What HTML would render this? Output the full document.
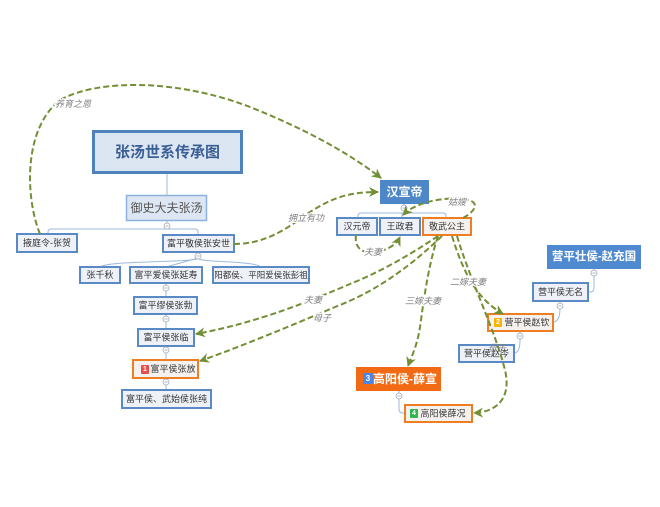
<!DOCTYPE html>
<html><head><meta charset="utf-8">
<style>
html,body{margin:0;padding:0;background:#fff;}
svg{display:block;font-family:"Liberation Sans","Noto Sans CJK SC",sans-serif;}
.bx{fill:#eef2f8;stroke:#5a8ac6;stroke-width:2;}
.ob{fill:#f4f1ee;stroke:#ef7d22;stroke-width:2;}
.t{font-size:9px;fill:#333;text-anchor:middle;dominant-baseline:central;}
.w{font-size:12px;fill:#fff;font-weight:bold;text-anchor:middle;dominant-baseline:central;}
.ln{fill:none;stroke:#9cb8dc;stroke-width:1;}
.d{fill:none;stroke:#738f36;stroke-width:2;stroke-dasharray:6 3;}
.lb{font-size:9px;font-style:italic;fill:#808080;text-anchor:middle;dominant-baseline:central;stroke:#fff;stroke-width:2.5px;paint-order:stroke;}
.c{fill:#fff;stroke:#a0aab8;stroke-width:0.8;}
.cm{stroke:#a0aab8;stroke-width:0.8;}
.bd{font-size:7px;fill:#fff;text-anchor:middle;dominant-baseline:central;font-weight:bold;}
</style></head>
<body>
<svg width="660" height="507" viewBox="0 0 660 507" xmlns="http://www.w3.org/2000/svg">
<defs>
<marker id="ar" markerUnits="userSpaceOnUse" markerWidth="12" markerHeight="12" refX="9" refY="5" orient="auto">
<path d="M0,0 L10,5 L0,10 L3,5 z" fill="#738f36"/>
</marker>
</defs>

<!-- tree connector lines -->
<path class="ln" d="M167,174 L167,195"/>
<path class="ln" d="M167,221 L167,229 M48,234 L48,232 Q48,229 51,229 L195,229 Q198,229 198,232 L198,235"/>
<path class="ln" d="M198,252 L198,258 C198,263 110,260 100,267 M198,258 L166,267 M198,258 C198,263 252,260 261,267"/>
<path class="ln" d="M166,283 L166,297 M166,314 L166,329 M166,346 L166,360 M166,378 L166,390"/>
<path class="ln" d="M404,204 L404,213 M358,218 L358,216 Q358,213 361,213 L443,213 Q446,213 446,216 L446,218 M402,213 L402,218"/>
<path class="ln" d="M594,269 L594,288 Q594,292 590,292 L588,292"/>
<path class="ln" d="M560,301 L560,308 C560,316 558,322 553,322"/>
<path class="ln" d="M520,331 L520,340 C520,348 518,353 514,353"/>
<path class="ln" d="M399,391 L399,409 Q399,413 403,413 L405,413"/>

<!-- title -->
<rect x="93.5" y="131.5" width="148" height="41" fill="#dce6f2" stroke="#4f81bd" stroke-width="3"/>
<text x="167.5" y="152.5" text-anchor="middle" dominant-baseline="central" font-size="15" font-weight="bold" fill="#3a5f95">张汤世系传承图</text>

<rect x="126.5" y="195.5" width="80" height="25" fill="#dde7f3" stroke="#8db1dc" stroke-width="1.5"/>
<text x="166.5" y="208" text-anchor="middle" dominant-baseline="central" font-size="12" fill="#555">御史大夫张汤</text>

<!-- left boxes -->
<rect class="bx" x="17" y="234" width="60" height="18"/><text class="t" x="47" y="243">掖庭令-张贺</text>
<rect class="bx" x="163" y="235" width="71" height="17"/><text class="t" x="198.5" y="243.5">富平敬侯张安世</text>
<rect class="bx" x="80" y="267" width="40" height="16"/><text class="t" x="100" y="275">张千秋</text>
<rect class="bx" x="130" y="267" width="72" height="16"/><text class="t" x="166" y="275">富平爱侯张延寿</text>
<rect class="bx" x="213" y="267" width="96" height="16"/><text class="t" x="261" y="275" style="font-size:8.5px">阳都侯、平阳爱侯张彭祖</text>
<rect class="bx" x="134" y="297" width="63" height="17"/><text class="t" x="165.5" y="305.5">富平缪侯张勃</text>
<rect class="bx" x="138" y="329" width="56" height="17"/><text class="t" x="166" y="337.5">富平侯张临</text>
<rect class="ob" x="133" y="360" width="65" height="18"/>
<rect x="141" y="365" width="8" height="9" rx="1" fill="#e84c4c"/><text class="bd" x="145" y="369.5">1</text>
<text class="t" x="173" y="369" >富平侯张放</text>
<rect class="bx" x="122" y="390" width="89" height="18"/><text class="t" x="166.5" y="399">富平侯、武始侯张纯</text>

<!-- right boxes -->
<rect x="380" y="180" width="49" height="24" fill="#4d87c7"/><text class="w" x="404.5" y="192">汉宣帝</text>
<rect class="bx" x="337" y="218" width="40" height="17"/><text class="t" x="357" y="226.5">汉元帝</text>
<rect class="bx" x="380" y="218" width="40" height="17"/><text class="t" x="400" y="226.5">王政君</text>
<rect class="ob" x="423" y="218" width="48" height="17"/><text class="t" x="447" y="226.5">敬武公主</text>

<rect x="547" y="245" width="94" height="24" fill="#4f8ad0"/><text class="w" x="594" y="257" style="font-size:11.5px">营平壮侯-赵充国</text>
<rect class="bx" x="533" y="283" width="55" height="18"/><text class="t" x="560.5" y="292">营平侯无名</text>
<rect class="ob" x="488" y="314" width="65" height="17"/>
<rect x="494" y="318" width="8" height="9" rx="1" fill="#f5b400"/><text class="bd" x="498" y="322.5">2</text>
<text class="t" x="527" y="322.5">营平侯赵钦</text>
<rect class="bx" x="459" y="345" width="55" height="17"/><text class="t" x="486.5" y="353.5">营平侯赵岑</text>

<rect x="356" y="367" width="85" height="24" fill="#f26b14"/>
<rect x="363" y="373" width="10" height="11" rx="1.5" fill="#4a86e8"/><text class="bd" x="368" y="378.5" style="font-size:8px">3</text>
<text class="w" x="405" y="379">高阳侯-薛宣</text>
<rect class="ob" x="405" y="405" width="67" height="17"/>
<rect x="410" y="409" width="8" height="9" rx="1" fill="#2db84d"/><text class="bd" x="414" y="413.5">4</text>
<text class="t" x="443" y="413.5">高阳侯薛况</text>

<!-- collapse circles -->
<g>
<circle class="c" cx="167" cy="226" r="3"/><line class="cm" x1="165.3" y1="226" x2="168.7" y2="226"/>
<circle class="c" cx="198" cy="256" r="3"/><line class="cm" x1="196.3" y1="256" x2="199.7" y2="256"/>
<circle class="c" cx="166" cy="288" r="3"/><line class="cm" x1="164.3" y1="288" x2="167.7" y2="288"/>
<circle class="c" cx="166" cy="319" r="3"/><line class="cm" x1="164.3" y1="319" x2="167.7" y2="319"/>
<circle class="c" cx="166" cy="350" r="3"/><line class="cm" x1="164.3" y1="350" x2="167.7" y2="350"/>
<circle class="c" cx="166" cy="382" r="3"/><line class="cm" x1="164.3" y1="382" x2="167.7" y2="382"/>
<circle class="c" cx="404" cy="208" r="3"/><line class="cm" x1="402.3" y1="208" x2="405.7" y2="208"/>
<circle class="c" cx="594" cy="273" r="3"/><line class="cm" x1="592.3" y1="273" x2="595.7" y2="273"/>
<circle class="c" cx="560" cy="306" r="3"/><line class="cm" x1="558.3" y1="306" x2="561.7" y2="306"/>
<circle class="c" cx="520" cy="336" r="3"/><line class="cm" x1="518.3" y1="336" x2="521.7" y2="336"/>
<circle class="c" cx="399" cy="396" r="3"/><line class="cm" x1="397.3" y1="396" x2="400.7" y2="396"/>
</g>

<!-- dashed relationship arrows -->
<path class="d" marker-end="url(#ar)" d="M40,234 C26,200 22,130 60,100 C100,78 180,80 250,107 C300,127 345,150 381,178"/>
<path class="d" marker-end="url(#ar)" d="M234,244 C268,244 290,226 310,212 C335,196 352,192 378,192"/>
<path class="d" marker-end="url(#ar)" d="M463,218 C478,210 480,200 462,199 C440,197 415,203 403,215"/>
<path class="d" marker-end="url(#ar)" d="M356,235 C354,250 365,254 375,252 C388,250 396,245 400,237"/>
<path class="d" marker-end="url(#ar)" d="M438,236 C410,255 380,272 350,284 C310,301 260,322 196,334"/>
<path class="d" marker-end="url(#ar)" d="M442,236 C415,262 380,290 335,307 C295,324 245,345 200,361"/>
<path class="d" marker-end="url(#ar)" d="M438,236 C430,260 425,290 421,320 C418,345 412,355 408,366"/>
<path class="d" marker-end="url(#ar)" d="M452,236 C460,262 470,285 485,300 C492,307 498,311 503,314"/>
<path class="d" marker-end="url(#ar)" d="M457,236 C470,280 495,330 505,370 C512,400 495,412 474,413"/>

<!-- labels -->
<text class="lb" x="73" y="104">养育之恩</text>
<text class="lb" x="306" y="218">拥立有功</text>
<text class="lb" x="457" y="202">姑嫂</text>
<text class="lb" x="373" y="252">夫妻</text>
<text class="lb" x="313" y="300">夫妻</text>
<text class="lb" x="322" y="318">母子</text>
<text class="lb" x="423" y="301">三嫁夫妻</text>
<text class="lb" x="468" y="282">二嫁夫妻</text>
<text class="lb" x="497" y="348" style="stroke-width:0">母子</text>
</svg>
</body></html>
